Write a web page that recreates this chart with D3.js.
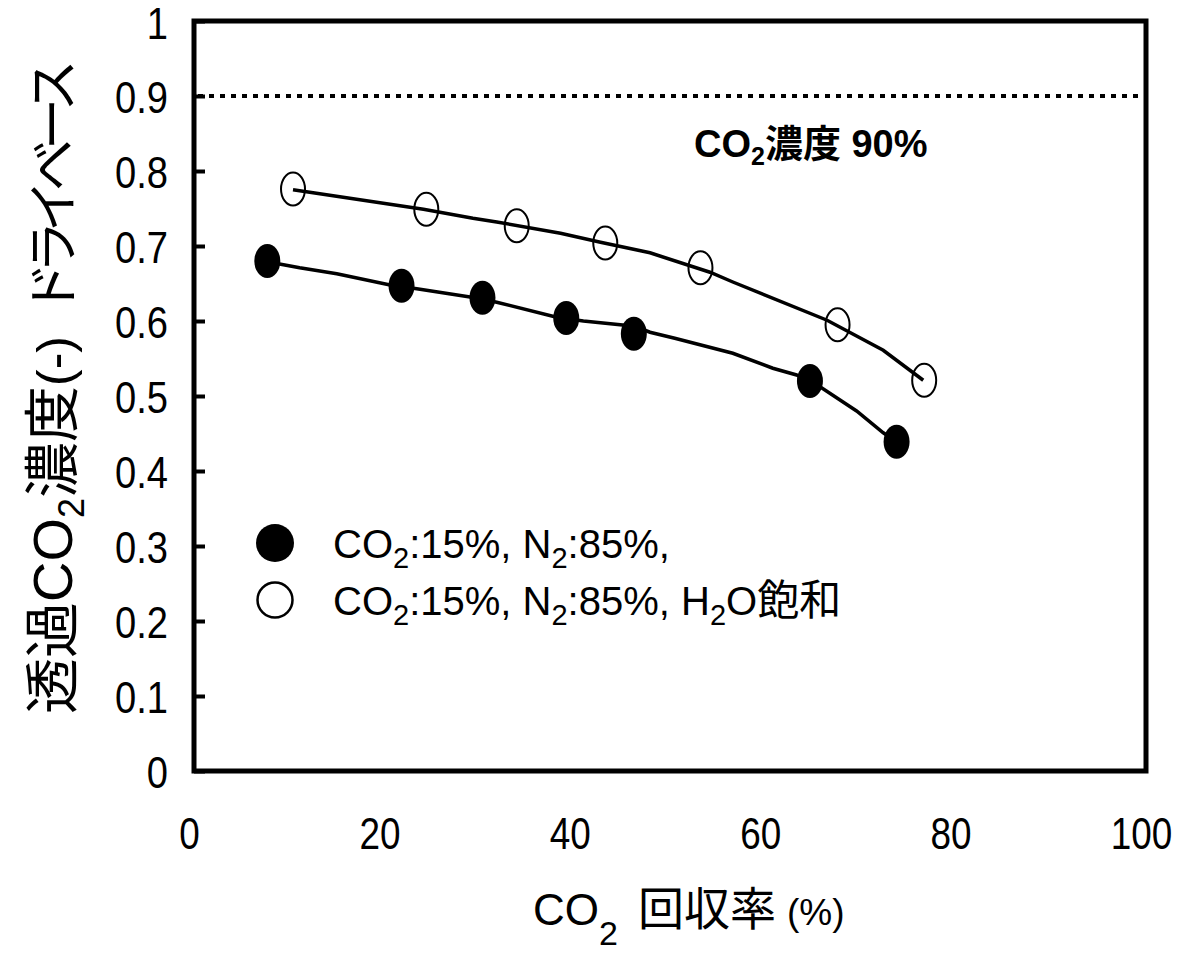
<!DOCTYPE html>
<html>
<head>
<meta charset="utf-8">
<script src="https://cdn.jsdelivr.net/npm/d3@7"></script>
<style>
  html, body { margin: 0; padding: 0; background: #fff; }
  svg { display: block; }
  text { fill: #000; }
</style>
</head>
<body>
<svg id="chart" width="1184" height="953"></svg>
<script>
// Measured points: CO2 recovery (%) vs permeate CO2 concentration (dry basis)
const dryRecovery = [7.7, 21.8, 30.3, 39.1, 46.2, 64.7, 73.8];
const dryConc     = [0.680, 0.647, 0.631, 0.604, 0.583, 0.520, 0.439];
const wetRecovery = [10.4, 24.4, 33.9, 43.2, 53.2, 67.6, 76.7];
const wetConc     = [0.776, 0.749, 0.727, 0.704, 0.671, 0.595, 0.521];

// Calculated curves drawn through the measurements
const dryCurveX = [7.7, 11.1, 15.0, 20.6, 23.4, 29.0, 31.8, 38.1, 40.9, 46.3, 47.9, 50.5, 56.6, 60.8, 63.3, 65.8, 69.6, 72.4, 73.8];
const dryCurveY = [0.679, 0.671, 0.663, 0.648, 0.643, 0.632, 0.625, 0.605, 0.600, 0.593, 0.585, 0.577, 0.557, 0.537, 0.528, 0.512, 0.480, 0.451, 0.439];
const wetCurveX = [10.4, 24.1, 29.3, 31.8, 38.5, 42.7, 47.9, 54.2, 56.6, 66.5, 72.4, 76.6];
const wetCurveY = [0.775, 0.749, 0.737, 0.732, 0.717, 0.705, 0.691, 0.665, 0.652, 0.601, 0.561, 0.521];

// Axis ticks and reference level
const xTicks = [0, 20, 40, 60, 80, 100];
const yTicks = [0, 0.1, 0.2, 0.3, 0.4, 0.5, 0.6, 0.7, 0.8, 0.9, 1];
const targetLevel = [0.9];

const latin = "'Liberation Sans', Arial, sans-serif";
const cjk = "'Liberation Sans', 'Noto Sans CJK JP', sans-serif";

const svg = d3.select("#chart");
const x = d3.scaleLinear().domain([0, 100]).range([194, 1146]);
const y = d3.scaleLinear().domain([0, 1]).range([771, 21]);

// Y axis: inward ticks, labels to the left
const yAxis = d3.axisLeft(y).tickValues(yTicks).tickSizeInner(0).tickSizeOuter(0)
  .tickFormat(d => d === 0 || d === 1 ? String(d) : d3.format(".1f")(d));
const gy = svg.append("g").attr("transform", `translate(${x(0)},0)`).call(yAxis);
gy.select(".domain").remove();
gy.selectAll(".tick line").attr("stroke", "#000").attr("stroke-width", 4).attr("x1", 0).attr("x2", 11);
gy.selectAll(".tick text")
  .attr("font-family", latin).attr("font-size", 41)
  .attr("x", 0).attr("y", 0).attr("dy", "0.36em")
  .attr("transform", d => d === 1 ? "translate(-26,2) scale(0.93,1.08)" : "translate(-26,0) scale(0.93,1.1)");

// X axis labels
const xAxis = d3.axisBottom(x).tickValues(xTicks).tickSize(0).tickFormat(d3.format("d"));
const gx = svg.append("g").attr("transform", `translate(-5,${y(0)})`).call(xAxis);
gx.select(".domain").remove();
gx.selectAll(".tick text")
  .attr("font-family", latin).attr("font-size", 41)
  .attr("y", 0).attr("dy", 0)
  .attr("transform", "translate(0,78) scale(0.9,1.1)");

// Dotted 90% reference line
svg.selectAll(".target").data(targetLevel).enter().append("line")
  .attr("x1", x(0) + 4).attr("x2", x(100))
  .attr("y1", d => y(d)).attr("y2", d => y(d))
  .attr("stroke", "#000").attr("stroke-width", 4).attr("stroke-dasharray", "5,6");

// Annotation
const ann = svg.append("text").attr("x", 694).attr("y", 157)
  .attr("font-family", cjk).attr("font-size", 38).attr("font-weight", "bold");
ann.append("tspan").text("CO");
ann.append("tspan").attr("font-size", 25).attr("dy", 8).text("2");
ann.append("tspan").attr("dy", -8).text("濃度 90%");

// Curves
const line = d3.line().x(d => x(d[0])).y(d => y(d[1]));
svg.append("path").datum(d3.zip(dryCurveX, dryCurveY))
  .attr("d", line).attr("fill", "none").attr("stroke", "#000").attr("stroke-width", 3.5);
svg.append("path").datum(d3.zip(wetCurveX, wetCurveY))
  .attr("d", line).attr("fill", "none").attr("stroke", "#000").attr("stroke-width", 3.5);

// Markers
svg.selectAll(".dry").data(d3.zip(dryRecovery, dryConc)).enter().append("ellipse")
  .attr("cx", d => x(d[0])).attr("cy", d => y(d[1])).attr("rx", 13).attr("ry", 17)
  .attr("fill", "#000");
svg.selectAll(".wet").data(d3.zip(wetRecovery, wetConc)).enter().append("ellipse")
  .attr("cx", d => x(d[0])).attr("cy", d => y(d[1])).attr("rx", 12).attr("ry", 16.5)
  .attr("fill", "none").attr("stroke", "#000").attr("stroke-width", 2);

// Frame
svg.append("rect").attr("x", x(0)).attr("y", y(1)).attr("width", x(100) - x(0)).attr("height", y(0) - y(1))
  .attr("fill", "none").attr("stroke", "#000").attr("stroke-width", 5);

// Legend
svg.append("circle").attr("cx", 275).attr("cy", 543).attr("r", 19).attr("fill", "#000");
svg.append("circle").attr("cx", 275).attr("cy", 600).attr("r", 17.5).attr("fill", "none")
  .attr("stroke", "#000").attr("stroke-width", 2.5);

function legendText(yPos, wet) {
  const t = svg.append("text").attr("x", 333).attr("y", yPos)
    .attr("font-family", cjk).attr("font-size", 40);
  t.append("tspan").text("CO");
  t.append("tspan").attr("font-size", 29).attr("dy", 10).text("2");
  t.append("tspan").attr("dy", -10).text(":15%, N");
  t.append("tspan").attr("font-size", 29).attr("dy", 10).text("2");
  t.append("tspan").attr("dy", -10).text(wet ? ":85%, H" : ":85%,");
  if (wet) {
    t.append("tspan").attr("font-size", 29).attr("dy", 10).text("2");
    t.append("tspan").attr("dy", -10).text("O");
    t.append("tspan").attr("font-size", 42).text("飽和");
  }
}
legendText(558, false);
legendText(615, true);

// X axis title
const xt = svg.append("text").attr("x", 533).attr("y", 925)
  .attr("font-family", cjk).attr("font-size", 44);
xt.append("tspan").text("CO");
xt.append("tspan").attr("font-size", 34).attr("dy", 20).text("2");
xt.append("tspan").attr("dy", -20).attr("x", 638).attr("font-size", 46).text("回収率");
xt.append("tspan").attr("x", 787).attr("font-size", 37).text("(%)");

// Y axis title
const yt = svg.append("text").attr("transform", "translate(72,714) rotate(-90)")
  .attr("font-family", cjk).attr("font-size", 56);
yt.append("tspan").text("透過CO");
yt.append("tspan").attr("font-size", 36).attr("dy", 12).text("2");
yt.append("tspan").attr("dy", -12).text("濃度");
yt.append("tspan").attr("font-size", 50).text("(-)");
yt.append("tspan").attr("dx", 22).attr("font-size", 52).attr("letter-spacing", -11).text("ドライベース");
</script>
</body>
</html>
